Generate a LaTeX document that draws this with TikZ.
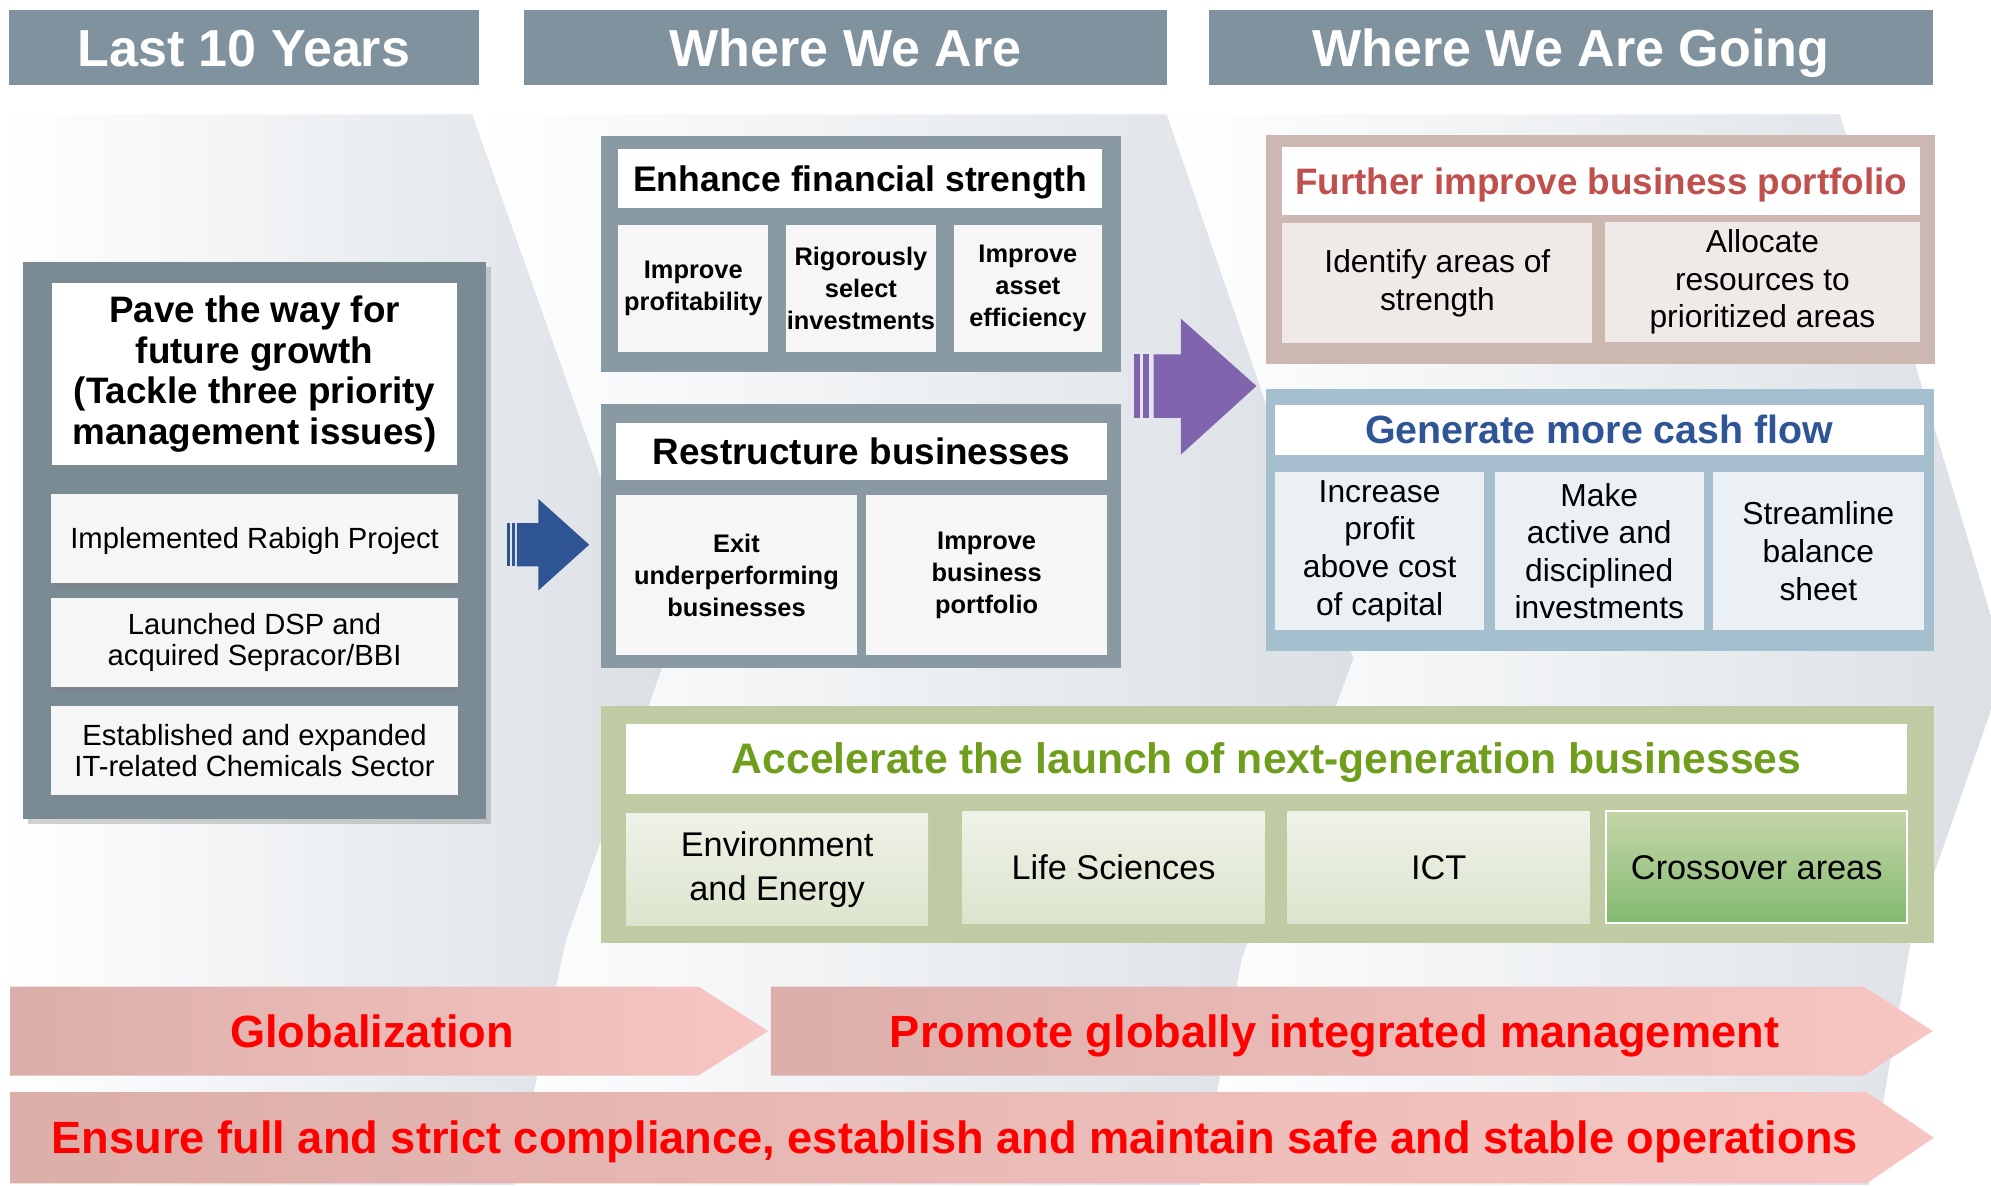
\documentclass[tikz,border=0pt]{standalone}
\usepackage{fontspec}
\setmainfont{Liberation Sans}
\usetikzlibrary{shadows}
\definecolor{hdr}{HTML}{7F929D}
\definecolor{lpfill}{HTML}{7A8B94}
\definecolor{midfill}{HTML}{8A9AA2}
\definecolor{subwhite}{HTML}{F6F6F6}
\definecolor{pinkfill}{HTML}{CCB7B1}
\definecolor{pinksub}{HTML}{EFE9E7}
\definecolor{pinktext}{HTML}{C0504D}
\definecolor{bluefill}{HTML}{A5BFCF}
\definecolor{bluesub}{HTML}{EAF0F4}
\definecolor{bluetext}{HTML}{2F5597}
\definecolor{greenfill}{HTML}{BFCBA2}
\definecolor{greentext}{HTML}{6E9E1C}
\definecolor{greentop}{HTML}{EFF2E8}
\definecolor{greenbot}{HTML}{DCE4CD}
\definecolor{crosstop}{HTML}{C5D5A8}
\definecolor{crossbot}{HTML}{83BA70}
\definecolor{bandgray}{HTML}{DBE0E5}
\definecolor{arrowblue}{HTML}{2E5494}
\definecolor{arrowpurple}{HTML}{8064AE}
\definecolor{rosedark}{HTML}{DCAEAA}
\definecolor{roselight}{HTML}{F7C6C2}
\definecolor{redtext}{HTML}{FF0000}
\tikzset{
  base/.style={rectangle, inner sep=0pt, outer sep=0pt, align=center, text=black},
  oneline/.style 2 args={text height=#1, text depth=#2},
  hdrbox/.style={base, fill=hdr, text=white, minimum height=59pt, oneline={36.9pt}{7.5pt}, font=\fontsize{41}{45}\selectfont\bfseries},
  lpanel/.style={base, fill=lpfill, drop shadow={shadow xshift=4pt, shadow yshift=-4pt, opacity=.35}},
  lptitle/.style={base, fill=white, font=\fontsize{29}{32}\selectfont\bfseries},
  lpitem/.style={base, fill=subwhite, minimum width=321pt, minimum height=70pt, font=\fontsize{23}{25}\selectfont, drop shadow={shadow xshift=1pt, shadow yshift=-3pt, opacity=.35}},
  midpanel/.style={base, fill=midfill},
  midtitle/.style={base, fill=white, font=\fontsize{#1}{32}\selectfont\bfseries},
  midsub/.style={base, fill=subwhite, font=\fontsize{20}{25}\selectfont\bfseries},
  pinkpanel/.style={base, fill=pinkfill},
  pinktitle/.style={base, fill=white, text=pinktext, oneline={26.1pt}{5.3pt}, font=\fontsize{29}{33}\selectfont\bfseries},
  pinksubbox/.style={base, fill=pinksub, minimum height=94pt, font=\fontsize{25}{29.5}\selectfont},
  bluepanel/.style={base, fill=bluefill},
  bluetitle/.style={base, fill=white, text=bluetext, oneline={27.9pt}{5.7pt}, font=\fontsize{31}{35}\selectfont\bfseries},
  bluesubbox/.style={base, fill=bluesub, minimum height=124pt, font=\fontsize{25}{29.6}\selectfont},
  greenpanel/.style={base, fill=greenfill},
  greentitle/.style={base, fill=white, text=greentext, oneline={30.2pt}{6.2pt}, font=\fontsize{33.6}{37}\selectfont\bfseries},
  greensubbox/.style={base, top color=greentop, bottom color=greenbot, minimum width=238pt, minimum height=88pt, font=\fontsize{27}{35}\selectfont},
  crossbox/.style={base, top color=crosstop, bottom color=crossbot, draw=white, line width=1.5pt, minimum width=237pt, minimum height=88pt, oneline={24.3pt}{5pt}, font=\fontsize{27}{35}\selectfont},
  rosearrow/.style={left color=rosedark, right color=roselight},
  redlabel/.style={base, text=redtext, oneline={32pt}{6.6pt}, font=\fontsize{35.6}{40}\selectfont\bfseries},
}
\begin{document}
\begin{tikzpicture}[x=1pt,y=-1pt]
\useasboundingbox (0,0) rectangle (1568,933.3);
% background chevron bands
\begin{scope}
\clip (0,0) rectangle (1568,933.3);
\shade[left color=white, right color=bandgray] (0,90) -- (372,90) -- (524,519) -- (446,740) -- (405,933.3) -- (0,933.3) -- cycle;
\shade[left color=white, right color=bandgray] (372,90) -- (919,90) -- (1066,519) -- (978,755) -- (945,933.3) -- (405,933.3) -- (446,740) -- (524,519) -- cycle;
\shade[left color=white, right color=bandgray] (919,90) -- (1449,90) -- (1580,525) -- (1505,740) -- (1472,933.3) -- (945,933.3) -- (978,755) -- (1066,519) -- cycle;
\end{scope}

% headers
\node[hdrbox, minimum width=370pt] (h1) at (192,37.5) {Last 10 Years};
\node[hdrbox, minimum width=506pt] (h2) at (666,37.5) {Where We Are};
\node[hdrbox, minimum width=570pt] (h3) at (1237,37.5) {Where We Are Going};

% left panel
\node[lpanel, minimum width=365pt, minimum height=439pt] (lp) at (200.5,425.5) {};
\node[lptitle, minimum width=319pt, minimum height=143pt] (lpt) at (200.5,294.5) {Pave the way for\\future growth\\(Tackle three priority\\management issues)};
\node[lpitem, oneline={20.7pt}{4.2pt}] (lp1) at (200.5,424) {Implemented Rabigh Project};
\node[lpitem] (lp2) at (200.5,506) {Launched DSP and\\acquired Sepracor/BBI};
\node[lpitem] (lp3) at (200.5,591) {Established and expanded\\IT-related Chemicals Sector};

% blue arrow
\fill[arrowblue] (407,412) -- (424,412) -- (424,393) -- (464,429) -- (424,465) -- (424,446) -- (407,446) -- cycle;
\fill[arrowblue] (399,412) rectangle (401.5,446);
\fill[arrowblue] (403,412) rectangle (405.5,446);

% middle upper panel
\node[midpanel, minimum width=410pt, minimum height=186pt] (mu) at (678,200) {};
\node[midtitle=28, oneline={25.2pt}{5.2pt}, minimum width=381pt, minimum height=47pt] (mut) at (677.5,140.5) {Enhance financial strength};
\node[midsub, minimum width=118pt, minimum height=100pt] (mu1) at (546,227) {Improve\\profitability};
\node[midsub, minimum width=118pt, minimum height=100pt] (mu2) at (678,227) {Rigorously\\select\\investments};
\node[midsub, minimum width=117pt, minimum height=100pt] (mu3) at (809.5,227) {Improve\\asset\\efficiency};

% middle lower panel
\node[midpanel, minimum width=410pt, minimum height=208pt] (ml) at (678,422) {};
\node[midtitle=29, oneline={26.1pt}{5.3pt}, minimum width=387pt, minimum height=45pt] (mlt) at (678.5,355.5) {Restructure businesses};
\node[midsub, minimum width=190pt, minimum height=126pt] (ml1) at (580,453) {Exit\\underperforming\\businesses};
\node[midsub, minimum width=190pt, minimum height=126pt] (ml2) at (777,453) {Improve\\business\\portfolio};

% purple arrow
\fill[arrowpurple] (908.5,279) -- (930,279) -- (930,251) -- (989.5,304) -- (930,358) -- (930,329) -- (908.5,329) -- cycle;
\fill[arrowpurple] (893,279) rectangle (898,329);
\fill[arrowpurple] (900,279) rectangle (905,329);

% right upper (pink) panel
\node[pinkpanel, minimum width=527pt, minimum height=181pt] (ru) at (1260.5,196.5) {};
\node[pinktitle, minimum width=502pt, minimum height=53pt] (rut) at (1261,142.5) {Further improve business portfolio};
\node[pinksubbox, minimum width=244pt] (ru1) at (1132,223) {Identify areas of\\strength};
\node[pinksubbox, minimum width=248pt] (ru2) at (1388,222) {Allocate\\resources to\\prioritized areas};

% right blue panel
\node[bluepanel, minimum width=526pt, minimum height=207pt] (rb) at (1260,409.5) {};
\node[bluetitle, minimum width=511pt, minimum height=39pt] (rbt) at (1259.5,338.5) {Generate more cash flow};
\node[bluesubbox, minimum width=165pt] (rb1) at (1086.5,434) {Increase\\profit\\above cost\\of capital};
\node[bluesubbox, minimum width=165pt] (rb2) at (1259.5,434) {Make\\active and\\disciplined\\investments};
\node[bluesubbox, minimum width=166pt] (rb3) at (1432,434) {Streamline\\balance\\sheet};

% green panel
\node[greenpanel, minimum width=1050pt, minimum height=187pt] (gp) at (998,649.5) {};
\node[greentitle, minimum width=1009pt, minimum height=55pt] (gpt) at (997.5,597.5) {Accelerate the launch of next-generation businesses};
\node[greensubbox] (g1) at (612,685) {Environment\\and Energy};
\node[greensubbox, oneline={24.3pt}{5pt}] (g2) at (877,683) {Life Sciences};
\node[greensubbox, oneline={24.3pt}{5pt}] (g3) at (1133,683) {ICT};
\node[crossbox] (g4) at (1383.5,683) {Crossover areas};

% bottom arrows
\shade[rosearrow] (8,777) -- (550,777) -- (605,812) -- (550,847) -- (8,847) -- cycle;
\shade[rosearrow] (607,777) -- (1468,777) -- (1522,812) -- (1468,847) -- (607,847) -- cycle;
\shade[rosearrow] (8,860) -- (1470,860) -- (1523,896) -- (1470,932) -- (8,932) -- cycle;
\node[redlabel] (tA) at (293,812) {Globalization};
\node[redlabel] (tB) at (1051,812) {Promote globally integrated management};
\node[redlabel] (tC) at (752,896) {Ensure full and strict compliance, establish and maintain safe and stable operations};
\end{tikzpicture}
\end{document}
